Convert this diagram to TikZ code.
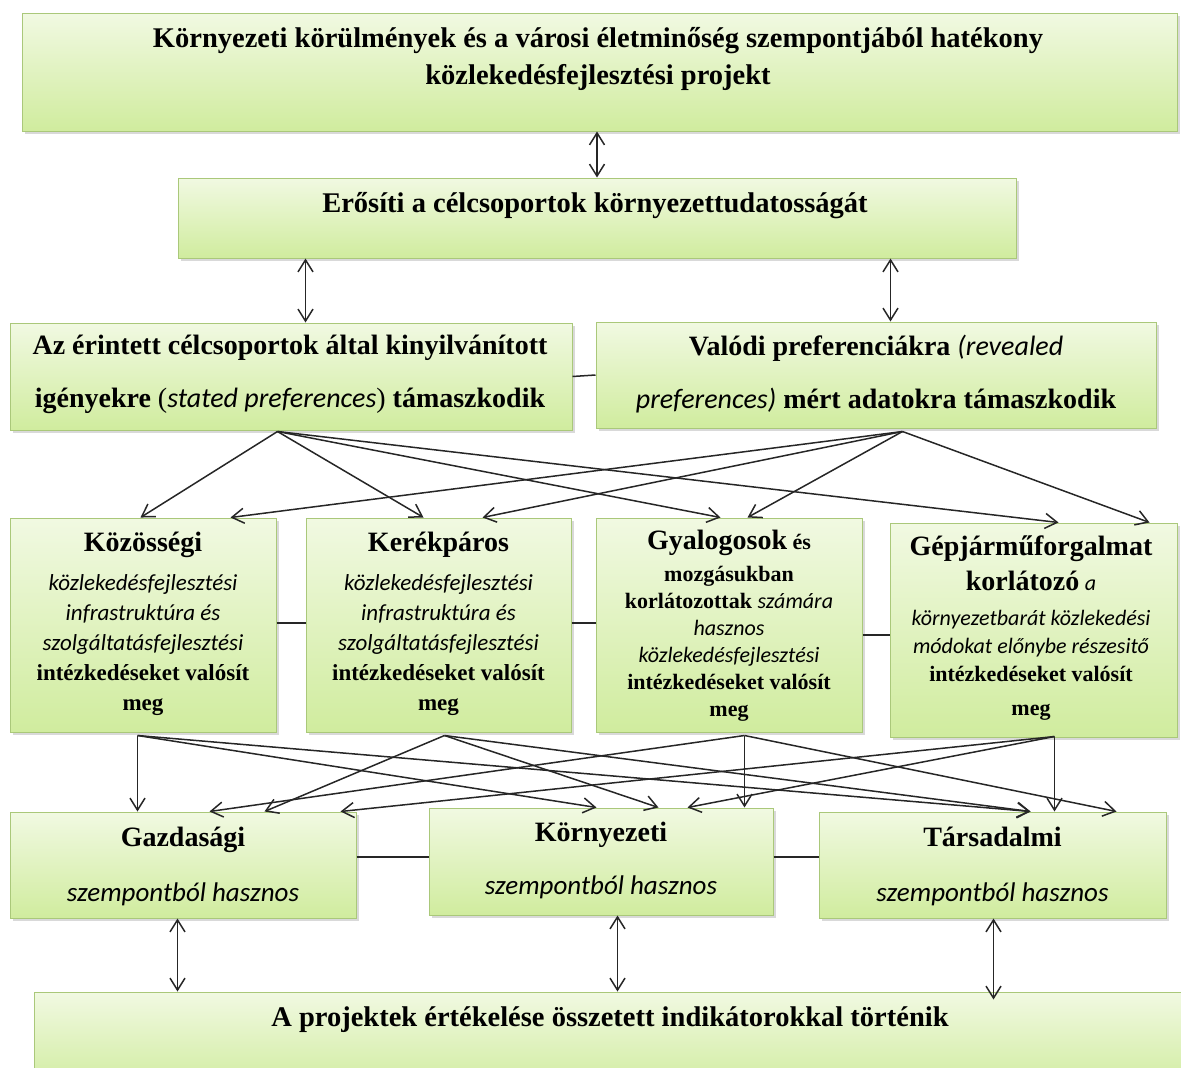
\documentclass[tikz,border=0pt]{standalone}
\usepackage{fontspec}
\setmainfont{Liberation Serif}
\newfontfamily\carl{Carlito}
\usetikzlibrary{arrows.meta,shadows}
\definecolor{boxtop}{RGB}{241,249,226}
\definecolor{boxbot}{RGB}{208,236,158}
\definecolor{boxedge}{RGB}{170,200,122}
\tikzset{
  gbox/.style={rectangle, draw=boxedge, line width=1pt, top color=boxtop, bottom color=boxbot,
    drop shadow={shadow xshift=2.5pt, shadow yshift=-3pt, opacity=0.3}, inner sep=0pt},
  txt/.style={inner sep=0pt, align=center, text=black},
  link/.style={line width=1.5pt, draw=black!85},
  arr/.style={link, -{Straight Barb[length=12pt,width=15pt]}},
  biarr/.style={link, {Straight Barb[length=12pt,width=15pt]}-{Straight Barb[length=12pt,width=15pt]}},
}
\begin{document}
\begin{tikzpicture}[x=1pt,y=-1pt]
\useasboundingbox (0,0) rectangle (1181,1068);
% boxes
\node[gbox, minimum width=1155pt, minimum height=118pt] (top) at (599.5,72) {};
\node[gbox, minimum width=838pt, minimum height=80pt] (aware) at (597,218) {};
\node[gbox, minimum width=562pt, minimum height=107pt] (stated) at (291,376.5) {};
\node[gbox, minimum width=560pt, minimum height=106pt] (revealed) at (876,375) {};
\node[gbox, minimum width=266pt, minimum height=214pt] (koz) at (143,625) {};
\node[gbox, minimum width=265pt, minimum height=214pt] (ker) at (438.5,625) {};
\node[gbox, minimum width=266pt, minimum height=214pt] (gyal) at (729,625) {};
\node[gbox, minimum width=287pt, minimum height=214pt] (gep) at (1033.5,630) {};
\node[gbox, minimum width=346pt, minimum height=106pt] (gazd) at (183,865) {};
\node[gbox, minimum width=344pt, minimum height=107pt] (korny) at (601,861.5) {};
\node[gbox, minimum width=347pt, minimum height=106pt] (tars) at (992.5,865) {};
\node[gbox, minimum width=1166pt, minimum height=98pt] (final) at (617,1041) {};
% texts
\node[txt, font=\fontsize{28.5}{37}\selectfont\bfseries] (topt) at (598,59)
  {Környezeti körülmények és a városi életminőség szempontjából hatékony\\közlekedésfejlesztési projekt};
\node[txt, font=\fontsize{28.5}{37}\selectfont\bfseries] (awaret) at (595,206)
  {Erősíti a célcsoportok környezettudatosságát};
\node[txt, font=\fontsize{28}{53}\selectfont\bfseries] (statedt) at (290,374)
  {Az érintett célcsoportok által kinyilvánított\\igényekre {\mdseries(}{\carl\itshape\mdseries stated preferences}{\mdseries)} támaszkodik};
\node[txt, font=\fontsize{28}{53}\selectfont\bfseries] (revealedt) at (876,374)
  {Valódi preferenciákra {\carl\itshape\mdseries (revealed}\\{\carl\itshape\mdseries preferences)} mért adatokra támaszkodik};
\node[txt, font=\fontsize{23}{30}\selectfont] (kozt) at (143,624)
  {{\fontsize{28}{30}\selectfont\bfseries Közösségi}\\[9pt]
   {\carl\itshape közlekedésfejlesztési}\\
   {\carl\itshape infrastruktúra és}\\
   {\carl\itshape szolgáltatásfejlesztési}\\
   {\bfseries intézkedéseket valósít}\\
   {\bfseries meg}};
\node[txt, font=\fontsize{23}{30}\selectfont] (kert) at (438.5,624)
  {{\fontsize{28}{30}\selectfont\bfseries Kerékpáros}\\[9pt]
   {\carl\itshape közlekedésfejlesztési}\\
   {\carl\itshape infrastruktúra és}\\
   {\carl\itshape szolgáltatásfejlesztési}\\
   {\bfseries intézkedéseket valósít}\\
   {\bfseries meg}};
\node[txt, font=\fontsize{22}{27}\selectfont\bfseries] (gyalt) at (729,626)
  {{\fontsize{28}{27}\selectfont Gyalogosok} és\\[5pt]
   mozgásukban\\
   korlátozottak {\carl\itshape\mdseries számára}\\
   {\carl\itshape\mdseries hasznos}\\
   {\carl\itshape\mdseries közlekedésfejlesztési}\\
   intézkedéseket valósít\\
   meg};
\node[txt, font=\fontsize{22}{28}\selectfont\bfseries] (gept) at (1031,628)
  {{\fontsize{28}{28}\selectfont Gépjárműforgalmat}\\[7pt]
   {\fontsize{28}{28}\selectfont korlátozó} {\carl\itshape\mdseries a}\\[7pt]
   {\carl\itshape\mdseries környezetbarát közlekedési}\\
   {\carl\itshape\mdseries módokat előnybe részesitő}\\
   intézkedéseket valósít\\[6pt]
   meg};
\node[txt, font=\fontsize{28}{55}\selectfont] (gazdt) at (183,866)
  {{\bfseries Gazdasági}\\{\carl\itshape\fontsize{27}{55}\selectfont szempontból hasznos}};
\node[txt, font=\fontsize{28}{53}\selectfont] (kornyt) at (601,860)
  {{\bfseries Környezeti}\\{\carl\itshape\fontsize{27}{53}\selectfont szempontból hasznos}};
\node[txt, font=\fontsize{28}{55}\selectfont] (tarst) at (992.5,866)
  {{\bfseries Társadalmi}\\{\carl\itshape\fontsize{27}{55}\selectfont szempontból hasznos}};
\node[txt, font=\fontsize{28.5}{37}\selectfont\bfseries] (finalt) at (610,1020)
  {A projektek értékelése összetett indikátorokkal történik};
% vertical two-way arrows
\draw[biarr] (top.south -| aware.north) -- (aware.north);
\draw[biarr] ([xshift=128pt]aware.south west) -- ([xshift=296pt]stated.north west);
\draw[biarr] ([xshift=713pt]aware.south west) -- ([xshift=295pt]revealed.north west);
\draw[biarr] ([xshift=168pt]gazd.south west) -- ([xshift=144pt]final.north west);
\draw[biarr] ([xshift=189pt]korny.south west) -- ([xshift=584pt]final.north west);
\draw[biarr] ([xshift=175pt]tars.south west) -- ([xshift=960pt,yshift=-8pt]final.north west);
% plain links
\draw[link] (stated.east) -- (revealed.west);
\draw[link] ([yshift=2pt]koz.east) -- ([yshift=2pt]ker.west);
\draw[link] ([yshift=2pt]ker.east) -- ([yshift=2pt]gyal.west);
\draw[link] ([yshift=-10pt]gyal.east) -- ([yshift=-5pt]gep.west);
\draw[link] ([yshift=8pt]gazd.east) -- ([yshift=4.5pt]korny.west);
\draw[link] ([yshift=4.5pt]korny.east) -- ([yshift=8pt]tars.west);
% sources
\coordinate (sML) at ([xshift=268pt,yshift=-1pt]stated.south west);
\coordinate (sMR) at ([xshift=307pt,yshift=-3pt]revealed.south west);
\coordinate (sK) at ([xshift=128pt,yshift=-3pt]koz.south west);
\coordinate (sKe) at ([xshift=139pt,yshift=-3pt]ker.south west);
\coordinate (sG) at ([xshift=149pt,yshift=-3pt]gyal.south west);
\coordinate (sGe) at ([xshift=165pt,yshift=1pt]gep.south west);
% upper fan
\draw[arr] (sML) -- ([xshift=131pt]koz.north west);
\draw[arr] (sML) -- ([xshift=118pt]ker.north west);
\draw[arr] (sML) -- ([xshift=125pt]gyal.north west);
\draw[arr] (sML) -- ([xshift=169pt]gep.north west);
\draw[arr] (sMR) -- ([xshift=221pt]koz.north west);
\draw[arr] (sMR) -- ([xshift=177pt]ker.north west);
\draw[arr] (sMR) -- ([xshift=152pt]gyal.north west);
\draw[arr] (sMR) -- ([xshift=260pt]gep.north west);
% lower fan
\draw[arr] (sK) -- ([xshift=128pt]gazd.north west);
\draw[arr] (sK) -- ([xshift=168pt]korny.north west);
\draw[arr] (sK) -- ([xshift=212pt]tars.north west);
\draw[arr] (sKe) -- ([xshift=255pt]gazd.north west);
\draw[arr] (sKe) -- ([xshift=230pt]korny.north west);
\draw[arr] (sKe) -- ([xshift=212pt]tars.north west);
\draw[arr] (sG) -- ([xshift=316pt]korny.north west);
\draw[arr] (sG) -- ([xshift=200pt]gazd.north west);
\draw[arr] (sG) -- ([xshift=298pt]tars.north west);
\draw[arr] (sGe) -- ([xshift=236pt]tars.north west);
\draw[arr] (sGe) -- ([xshift=259pt]korny.north west);
\draw[arr] (sGe) -- ([xshift=331pt]gazd.north west);
\end{tikzpicture}
\end{document}
